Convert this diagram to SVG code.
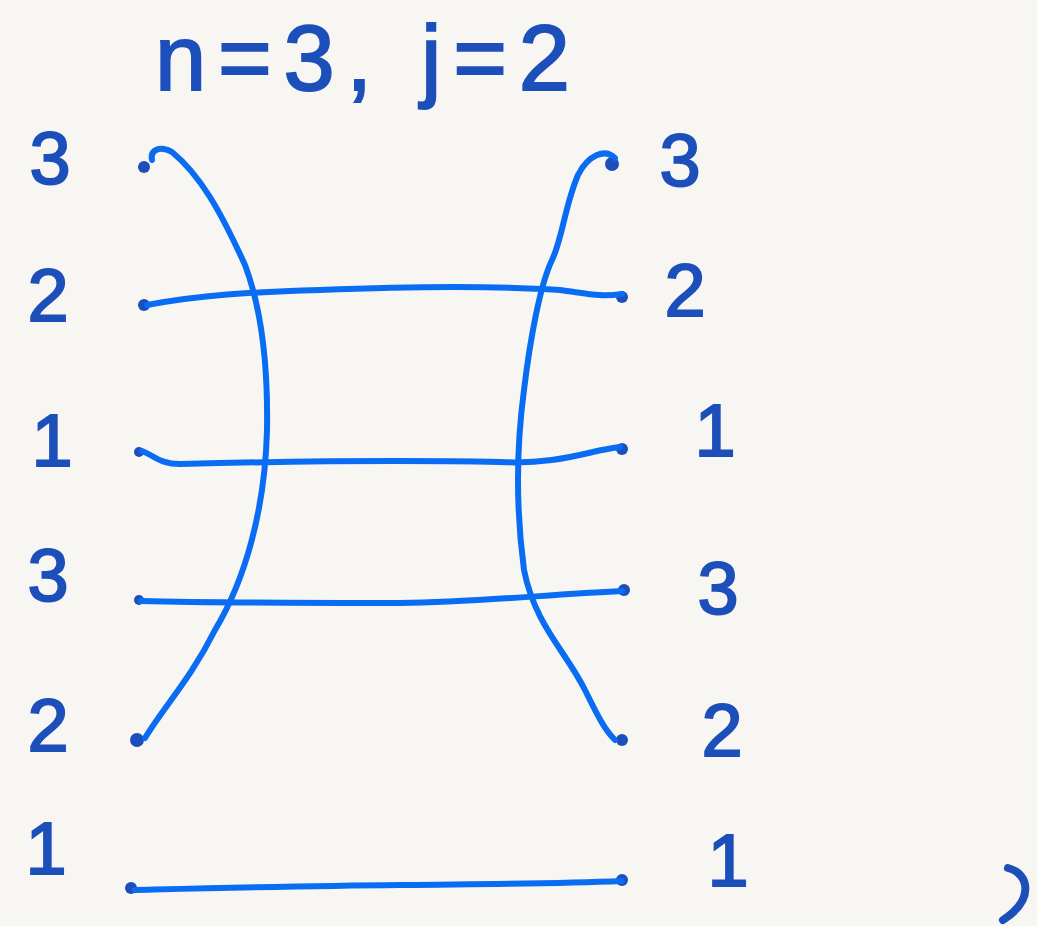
<svg xmlns="http://www.w3.org/2000/svg" width="1037" height="926" viewBox="0 0 1037 926">
<style>
.lbl{font-family:"Liberation Sans",Arial,sans-serif;font-size:74px;fill:#1c4fba;stroke:#1c4fba;stroke-width:2;text-anchor:middle;dominant-baseline:central}
.ttl{font-family:"Liberation Sans",Arial,sans-serif;font-size:92px;fill:#1c4fba;stroke:#1c4fba;stroke-width:2}
.wire{fill:none;stroke:#0a6cf2;stroke-width:6;stroke-linecap:round;stroke-linejoin:round}
.dot{fill:#1c4fba}
</style>
<rect width="1037" height="926" fill="#f8f6f2"/>
<text class="ttl" x="155" y="90" textLength="415" lengthAdjust="spacing">n=3, j=2</text>
<g id="left-labels">
<text class="lbl" x="50" y="158">3</text>
<text class="lbl" x="48" y="295">2</text>
<text class="lbl" x="52" y="440">1</text>
<text class="lbl" x="48" y="575">3</text>
<text class="lbl" x="48" y="725">2</text>
<text class="lbl" x="46" y="848">1</text>
</g>
<g id="right-labels">
<text class="lbl" x="680" y="160">3</text>
<text class="lbl" x="685" y="290">2</text>
<text class="lbl" x="715" y="430">1</text>
<text class="lbl" x="718" y="588">3</text>
<text class="lbl" x="722" y="730">2</text>
<text class="lbl" x="728" y="860">1</text>
</g>
<g id="left-nodes">
<circle class="dot" cx="144" cy="167" r="6"/>
<circle class="dot" cx="144" cy="305" r="6"/>
<circle class="dot" cx="139" cy="452" r="5"/>
<circle class="dot" cx="139" cy="600" r="5"/>
<circle class="dot" cx="137" cy="740" r="7"/>
<circle class="dot" cx="131" cy="888" r="6"/>
</g>
<g id="right-nodes">
<circle class="dot" cx="612" cy="164" r="7"/>
<circle class="dot" cx="622" cy="297" r="6"/>
<circle class="dot" cx="622" cy="449" r="6"/>
<circle class="dot" cx="624" cy="590" r="6"/>
<circle class="dot" cx="622" cy="740" r="6"/>
<circle class="dot" cx="622" cy="880" r="6"/>
</g>
<g id="connectors">
<path class="wire" d="M152,160 C150,150 160,145 172,152 C200,175 220,210 245,265 C262,310 268,370 267,430 C265,510 245,580 215,630 C190,680 165,705 145,738"/>
<path class="wire" d="M615,158 C605,148 588,155 578,175 C565,205 562,240 552,260 C540,285 530,340 524,390 C516,450 516,510 524,570 C535,625 565,650 585,690 C595,710 603,728 615,740"/>
<path class="wire" d="M147,305 C200,295 250,292 320,290 C420,286 500,286 560,290 C590,294 600,297 622,294"/>
<path class="wire" d="M142,451 C155,456 160,464 180,464 C260,462 400,460 500,462 C560,465 590,450 620,447"/>
<path class="wire" d="M141,601 C220,603 300,603 400,603 C480,602 540,595 622,591"/>
<path class="wire" d="M135,890 C220,888 300,886 400,885 C480,884 550,884 622,881"/>
</g>
<path class="wire" d="M1008,868 C1030,874 1034,900 1003,920" style="stroke:#1c4fba;stroke-width:8"/>
</svg>
